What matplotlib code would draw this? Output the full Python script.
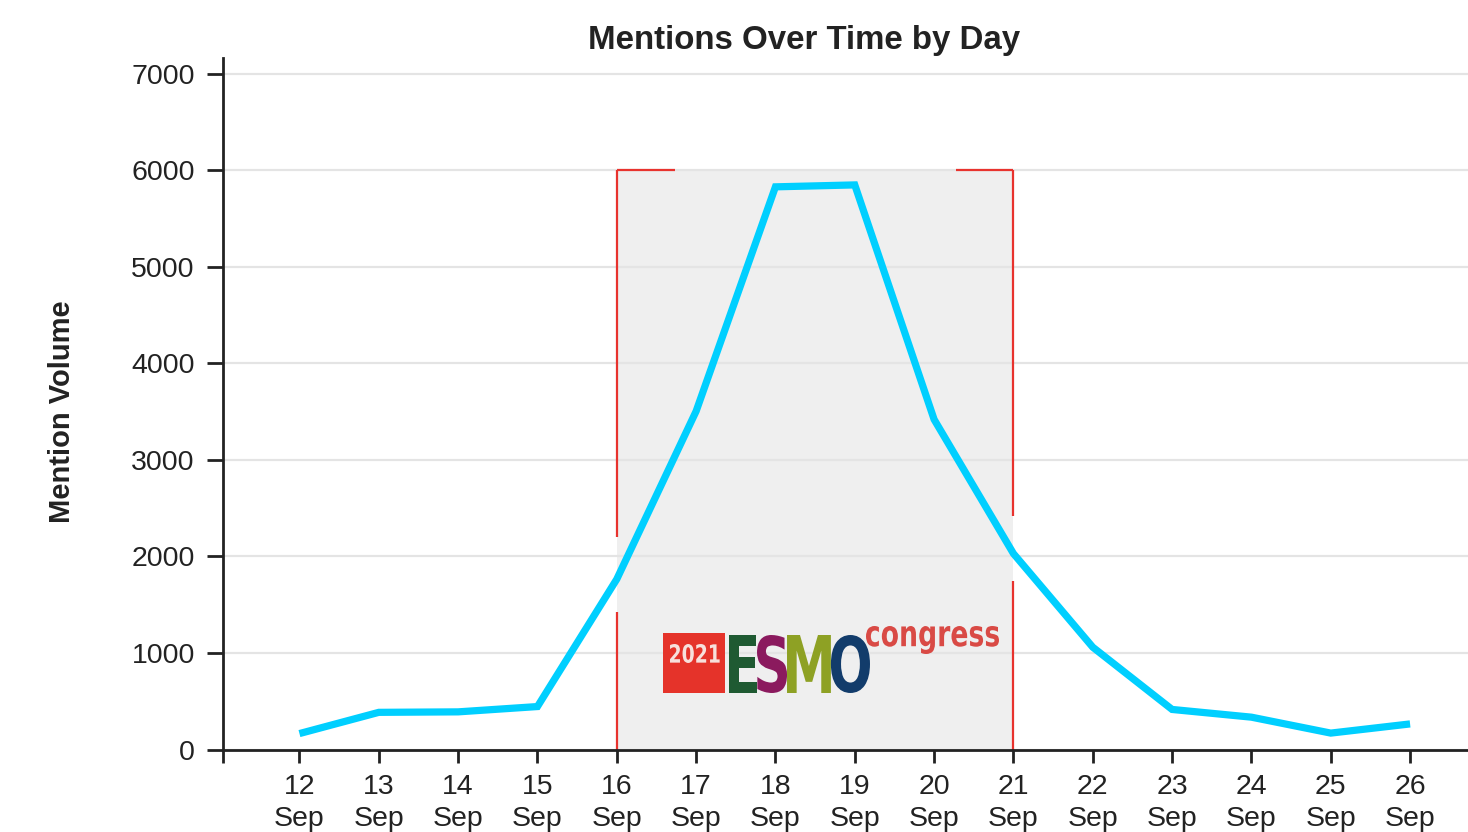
import matplotlib
matplotlib.use("Agg")
import matplotlib.pyplot as plt
from matplotlib.patches import Rectangle, PathPatch
from matplotlib.textpath import TextPath
from matplotlib.font_manager import FontProperties
from matplotlib.transforms import Affine2D

# ---- data ----
days = [12, 13, 14, 15, 16, 17, 18, 19, 20, 21, 22, 23, 24, 25, 26]
mentions = [165, 385, 390, 445, 1765, 3505, 5830, 5850, 3420, 2030, 1060, 415, 335, 170, 265]
tick_labels = ["", "12\nSep", "13\nSep", "14\nSep", "15\nSep", "16\nSep", "17\nSep", "18\nSep",
               "19\nSep", "20\nSep", "21\nSep", "22\nSep", "23\nSep", "24\nSep", "25\nSep", "26\nSep"]
y_ticks = [0, 1000, 2000, 3000, 4000, 5000, 6000, 7000]
event_start, event_end, event_top = 16, 21, 6000

W, H = 1468, 832
plt.rcParams['font.family'] = ['Liberation Sans', 'DejaVu Sans']
fig = plt.figure(figsize=(W / 100, H / 100), dpi=100)
ax = fig.add_axes([223.3 / W, (H - 749.5) / H, 1 - 223.3 / W, (749.5 - 58) / H])

x_left, x_right = 11.04, 26.73
ax.set_xlim(x_left, x_right)
ax.set_ylim(0, 7165)

txt = '#222222'
# shaded event window
ax.add_patch(Rectangle((event_start, 0), event_end - event_start, event_top,
                       facecolor='#efefef', edgecolor='none', zorder=0.2))
red = '#e8332e'
# red partial frame
kw = dict(color=red, lw=1.6, zorder=0.6, solid_capstyle='butt')
ax.plot([event_start, event_start + 0.73], [event_top, event_top], **kw)
ax.plot([event_end - 0.73, event_end], [event_top, event_top], **kw)
ax.plot([event_start, event_start], [event_top, 2200], **kw)
ax.plot([event_start, event_start], [1420, 0], **kw)
ax.plot([event_end, event_end], [event_top, 2420], **kw)
ax.plot([event_end, event_end], [1750, 0], **kw)

# grid
ax.set_axisbelow(True)
ax.yaxis.grid(True, color='#e4e4e4', lw=1.6)
ax.xaxis.grid(False)

# line
ax.plot(days, mentions, color='#00cfff', lw=5.2, solid_capstyle='butt', solid_joinstyle='miter', zorder=3)

# axes styling
for s in ['top', 'right']:
    ax.spines[s].set_visible(False)
for s in ['left', 'bottom']:
    ax.spines[s].set_color('#222222')
    ax.spines[s].set_linewidth(2.0)
ax.set_xticks([x_left] + days)
ax.set_xticklabels(tick_labels, fontsize=20.5, color=txt, linespacing=1.32)
ax.set_yticks(y_ticks)
ax.set_yticklabels([str(v) for v in y_ticks], fontsize=20.5, color=txt)
ax.tick_params(axis='x', length=9, width=2.0, color='#222222', pad=8.5)
ax.tick_params(axis='y', length=11.5, width=2.0, color='#222222', pad=9)

ax.set_ylabel('Mention Volume', fontsize=21, fontweight='bold', color=txt, labelpad=40)
ax.yaxis.label.set_y((749.5 - 412) / 691.5)
fig.text(804.5 / W, 1 - 41 / H, 'Mentions Over Time by Day', ha='center', va='center',
         fontsize=23.8, fontweight='bold', color=txt)

# ---- logo (ESMO congress 2021) drawn as text paths ----
fig.canvas.draw()

def draw_text(s, x_pix, y_pix, height_pix, sx, color, weight='bold'):
    fp = FontProperties(family='DejaVu Sans', weight=weight)
    tp = TextPath((0, 0), s, size=100, prop=fp)
    bb = tp.get_extents()
    scale = height_pix / bb.height
    tr = Affine2D().translate(-bb.x0, -bb.y0).scale(scale * sx, scale).translate(x_pix, y_pix)
    patch = PathPatch(tr.transform_path(tp), facecolor=color, edgecolor='none',
                      transform=None, zorder=2.5)
    fig.add_artist(patch)
    return bb.width * scale * sx

x0 = 663
yb = H - 693
fig.add_artist(Rectangle((x0, yb), 62, 60, transform=None, facecolor='#e5332a', edgecolor='none', zorder=2.4))
draw_text('2021', x0 + 7, yb + 30, 19, 0.75, '#f7e0dc')
xs = 729
for ch, col in zip('ESMO', ['#1f5a32', '#8b1a5e', '#8ea124', '#123c6b']):
    w = draw_text(ch, xs, yb, 58, 0.68, col)
    xs += w
draw_text('congress', 866, H - 654, 28, 0.74, '#d94a45')

fig.savefig('out.png', dpi=100)
